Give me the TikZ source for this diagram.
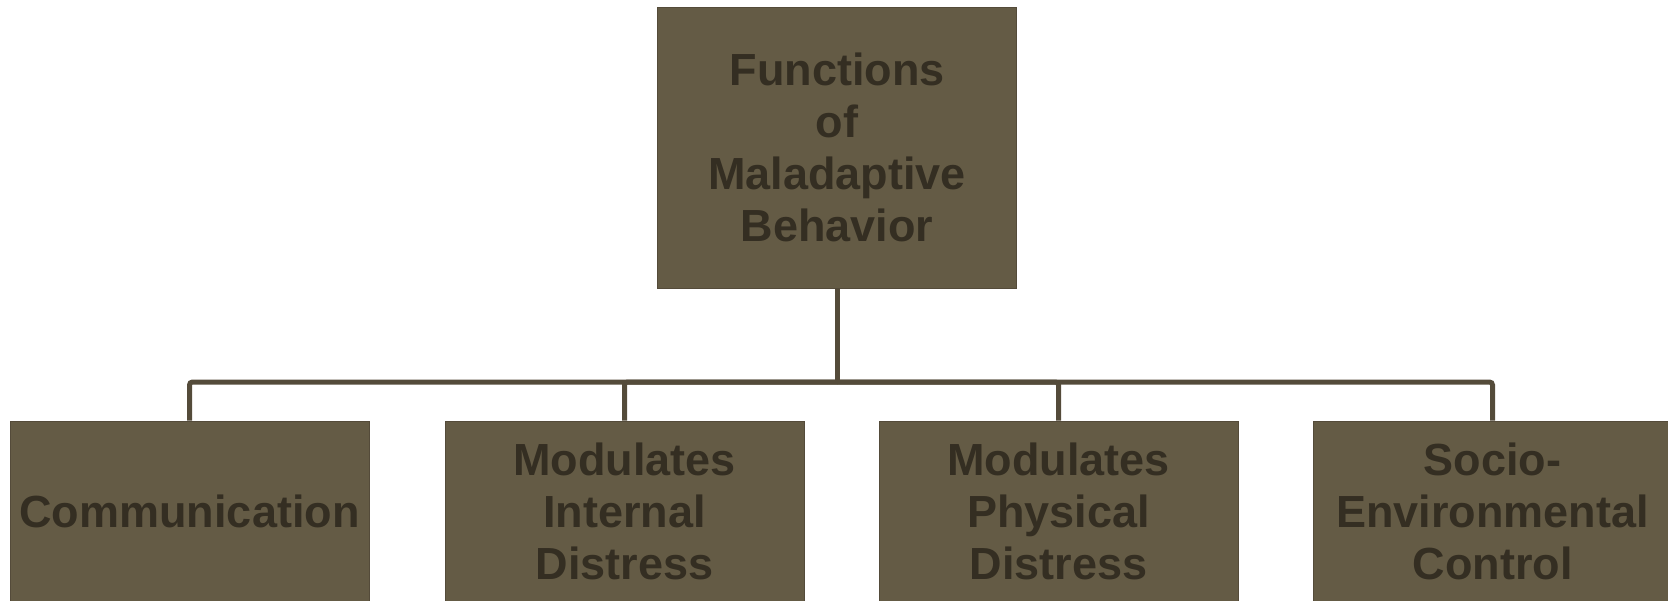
\documentclass[tikz,border=0pt]{standalone}
\usepackage{fontspec}
\setmainfont{Liberation Sans}
\definecolor{boxfill}{HTML}{645B45}
\definecolor{boxtext}{HTML}{342E22}
\definecolor{linkcol}{HTML}{544B3A}

\begin{document}
\begin{tikzpicture}[x=1pt, y=-1pt,
    fnbox/.style={rectangle, fill=boxfill, draw=linkcol, line width=1pt,
        minimum width=359pt, inner sep=0pt, align=center, text=boxtext,
        font=\fontsize{45}{52}\selectfont\bfseries},
    link/.style={draw=linkcol, line width=5pt}]
    \useasboundingbox (0,0) rectangle (1668,600);
    \clip (0,0) rectangle (1668,600);

    % Root
    \node[fnbox, minimum height=281pt] (root) at (837,147.5)
        {Functions\\of\\Maladaptive\\Behavior};

    % Functions
    \node[fnbox, minimum height=180pt] (comm) at (189.5,511) {Communication};
    \node[fnbox, minimum height=180pt] (internal) at (624.5,511)
        {Modulates\\Internal\\Distress};
    \node[fnbox, minimum height=180pt] (physical) at (1058.5,511)
        {Modulates\\Physical\\Distress};
    \node[fnbox, minimum height=180pt] (socio) at (1492.5,511)
        {Socio-\\Environmental\\Control};

    % Connectors
    \coordinate (bar) at (837,382);
    \draw[link] (root.south) -- (bar);
    \draw[link, rounded corners=3pt] (bar) -| (comm.north);
    \draw[link, rounded corners=3pt] (bar) -| (internal.north);
    \draw[link, rounded corners=3pt] (bar) -| (physical.north);
    \draw[link, rounded corners=3pt] (bar) -| (socio.north);
\end{tikzpicture}
\end{document}
